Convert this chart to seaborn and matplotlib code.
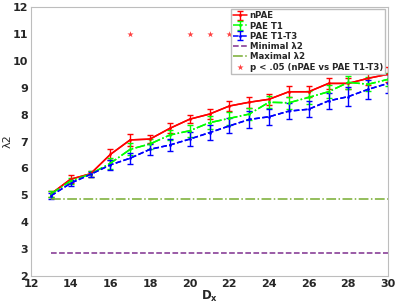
import seaborn as sns
import pandas as pd
import matplotlib.pyplot as plt

# data
dx = [13, 14, 15, 16, 17, 18, 19, 20, 21, 22, 23, 24, 25, 26, 27, 28, 29, 30]
npae = [5.05, 5.6, 5.8, 6.52, 7.06, 7.09, 7.49, 7.83, 8.02, 8.32, 8.46, 8.57, 8.85, 8.85, 9.16, 9.16, 9.35, 9.5]
npae_err = [0.1, 0.15, 0.12, 0.22, 0.22, 0.15, 0.18, 0.15, 0.18, 0.18, 0.2, 0.2, 0.2, 0.2, 0.2, 0.2, 0.25, 0.28]
pae_t1 = [5.05, 5.54, 5.79, 6.19, 6.71, 6.91, 7.24, 7.4, 7.7, 7.86, 8.02, 8.46, 8.44, 8.64, 8.85, 9.2, 9.13, 9.31]
pae_t1_err = [0.1, 0.12, 0.1, 0.2, 0.22, 0.2, 0.2, 0.22, 0.25, 0.25, 0.22, 0.22, 0.22, 0.25, 0.25, 0.25, 0.25, 0.25]
pae_t1t3 = [4.98, 5.45, 5.78, 6.13, 6.38, 6.71, 6.87, 7.09, 7.33, 7.58, 7.82, 7.92, 8.13, 8.2, 8.51, 8.67, 8.94, 9.16]
pae_t1t3_err = [0.12, 0.12, 0.1, 0.18, 0.2, 0.2, 0.22, 0.25, 0.28, 0.28, 0.3, 0.3, 0.3, 0.3, 0.3, 0.35, 0.35, 0.35]
min_l2 = 2.85
max_l2 = 4.87
sig_dx = [17, 20, 21, 22]
sig_y = [11, 11, 11, 11]

sns.set_style("white")
plt.rcParams["font.family"] = ["DejaVu Sans"]
plt.rcParams["font.weight"] = "bold"

fig = plt.figure(figsize=(4, 3.05), dpi=100)
ax = fig.add_axes([0.0775, 0.095, 0.8925, 0.882])

series = [
    ("nPAE", npae, npae_err, "#ff0000", "-"),
    ("PAE T1", pae_t1, pae_t1_err, "#00ff00", "-."),
    ("PAE T1-T3", pae_t1t3, pae_t1t3_err, "#0000ff", "--"),
]
for name, y, e, c, ls in series:
    df = pd.DataFrame({"Dx": dx, "val": y})
    sns.lineplot(data=df, x="Dx", y="val", color=c, linestyle=ls, lw=1.1, ax=ax)
    ax.errorbar(dx, y, yerr=e, color=c, linestyle=ls, lw=1.1, elinewidth=1.0,
                capsize=2, capthick=1.0, label=name, marker=".", ms=2)

hdf = pd.DataFrame({"Dx": [13, 30], "mn": [min_l2, min_l2], "mx": [max_l2, max_l2]})
sns.lineplot(data=hdf, x="Dx", y="mn", color="#7e2f8e", linestyle="--", lw=1.1, ax=ax,
             label="Minimal \u03bb2")
sns.lineplot(data=hdf, x="Dx", y="mx", color="#77ac30", linestyle="-.", lw=1.1, ax=ax,
             label="Maximal \u03bb2")
sdf = pd.DataFrame({"Dx": sig_dx, "y": sig_y})
sns.scatterplot(data=sdf, x="Dx", y="y", marker="*", color="#ff4040", s=22, linewidth=0,
                ax=ax, label="p < .05 (nPAE vs PAE T1-T3)")

ax.set_xlim(12, 30)
ax.set_ylim(2, 12)
ax.set_xticks(range(12, 31, 2))
ax.set_yticks(range(2, 13))
ax.tick_params(direction="in", length=3, labelsize=8, colors="#262626", width=0.6, pad=2)
for lab in ax.get_xticklabels() + ax.get_yticklabels():
    lab.set_fontweight("bold")
for sp in ax.spines.values():
    sp.set_color("#bdbdbd")
    sp.set_linewidth(0.8)
ax.set_xlabel("D$_\\mathbf{x}$", fontsize=8.5, fontweight="bold", labelpad=0)
ax.set_ylabel("\u03bb2", fontsize=8, labelpad=0)

h, l = ax.get_legend_handles_labels()
order = ["nPAE", "PAE T1", "PAE T1-T3", "Minimal \u03bb2", "Maximal \u03bb2", "p < .05 (nPAE vs PAE T1-T3)"]
hd = dict(zip(l, h))
ax.legend([hd[k] for k in order], order, loc="upper right", prop={"weight": "bold", "size": 6.2},
          handlelength=1.6, labelspacing=0.15, borderpad=0.3, handletextpad=0.3,
          framealpha=1, fancybox=False, edgecolor="#bdbdbd", bbox_to_anchor=(1.005, 1.01))

fig.savefig("out.png", dpi=100)
